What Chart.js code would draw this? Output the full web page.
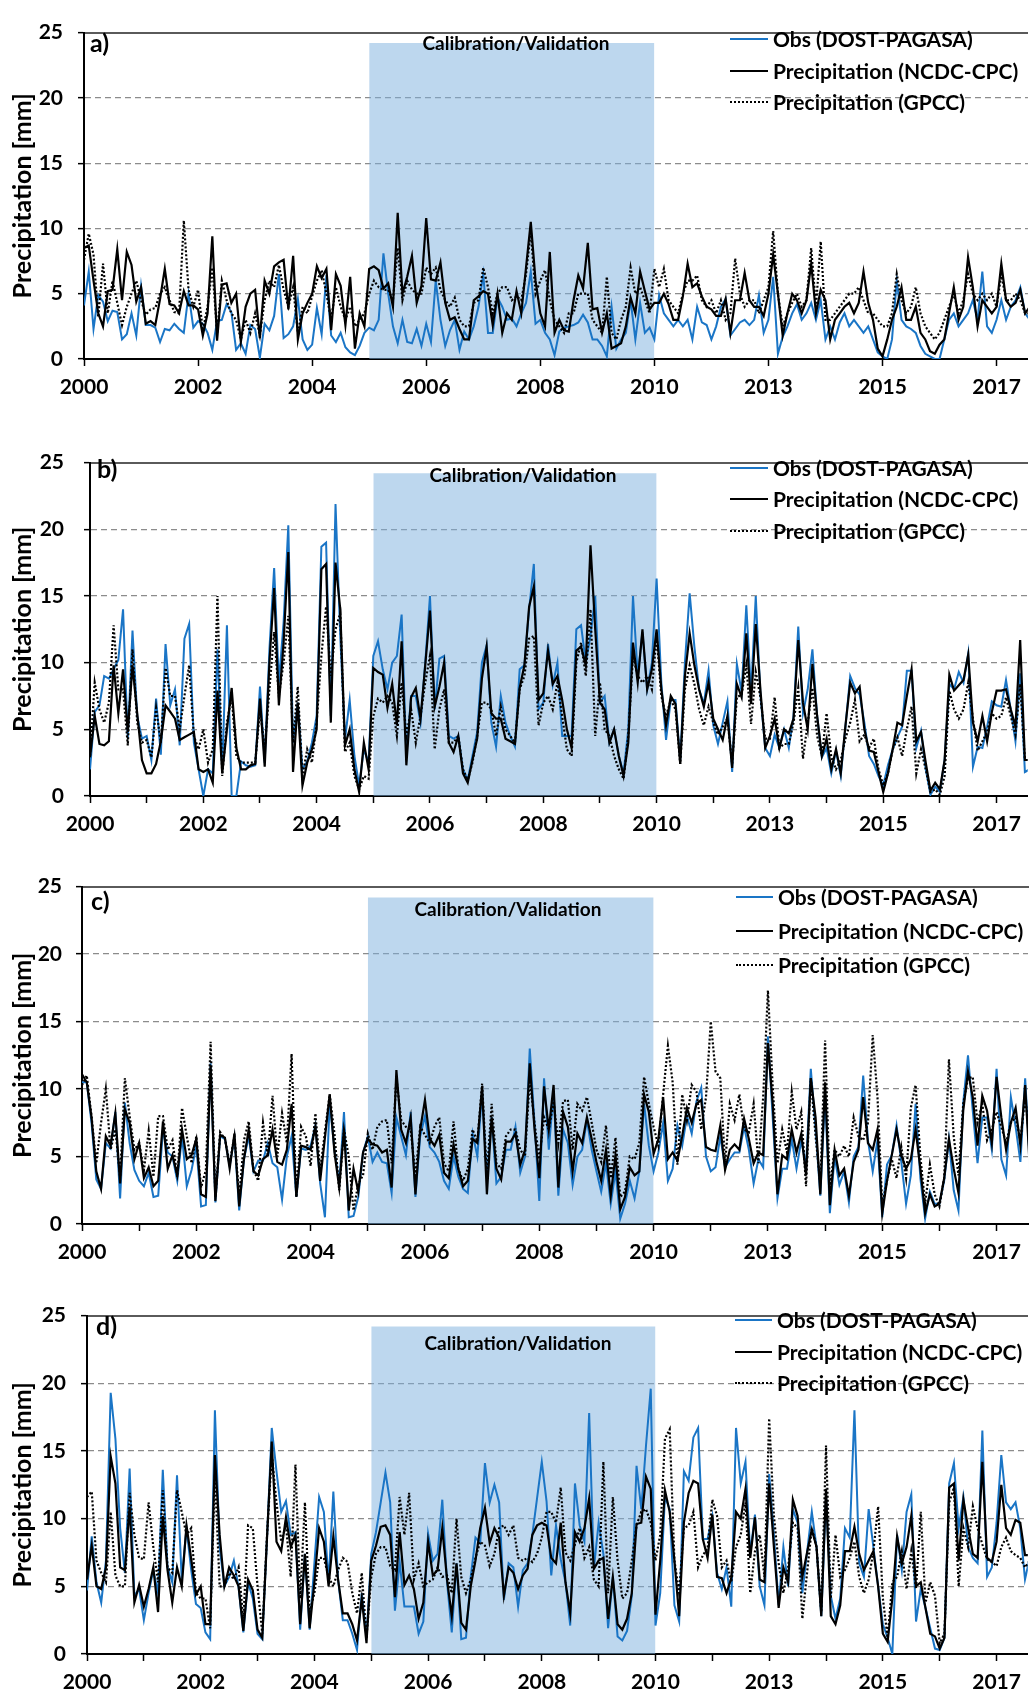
<!DOCTYPE html>
<html>
<head>
<meta charset="utf-8">
<script src="https://cdn.jsdelivr.net/npm/chart.js@4/dist/chart.umd.min.js"></script>
<style>
  html, body { margin:0; padding:0; background:#fff; }
  body { position:relative; width:1030px; height:1699px; overflow:hidden; font-family: Lato, "Open Sans", sans-serif; }
  .cv { position:absolute; left:0; }
  .txt { position:absolute; white-space:nowrap; font-weight:bold; color:#000; }
  .sample { position:absolute; height:0; }
</style>
</head>
<body>
<script>
// ---------- data (monthly, index 0 = Jan 2000) ----------
const xTickLabels = ['2000','2002','2004','2006','2008','2010','2013','2015','2017'];
const yTicks = [0, 5, 10, 15, 20, 25];
const seriesNames = ['Obs (DOST-PAGASA)', 'Precipitation (NCDC-CPC)', 'Precipitation (GPCC)'];
const panelLetters = ['a)', 'b)', 'c)', 'd)'];
const calLabel = 'Calibration/Validation';
const calStart = 60, calEnd = 120, calTop = 24.2;

const aObs = [
4.1,6.7,2.3,4.9,4.4,2.9,3.7,3.6,1.5,1.9, 3.5,1.8,5.6,2.6,2.6,2.4,1.3,2.3,2.2,2.7,
2.3,2.0,5.0,2.4,2.9,2.7,2.0,0.7,2.9,3.0, 4.2,3.6,0.7,1.2,0.4,2.6,2.3,0.1,2.7,2.2,
3.3,6.5,1.6,1.9,2.5,4.6,1.5,0.7,1.1,3.9, 1.9,6.4,1.8,1.3,2.0,0.9,0.5,0.3,1.0,2.0,
2.4,2.2,3.0,8.1,5.0,2.5,1.2,3.0,1.3,1.2, 2.3,1.0,2.7,1.3,6.0,3.0,1.0,2.2,3.0,0.7,
2.1,1.5,2.5,4.0,6.5,2.0,2.0,4.7,4.0,3.0, 3.1,2.5,3.5,4.3,6.7,2.7,3.0,2.0,1.5,0.3,
2.1,2.4,2.5,2.6,2.8,3.4,2.8,1.5,1.5,1.0, 0.2,4.0,0.8,1.5,2.0,4.5,1.5,4.3,2.0,2.4,
1.5,4.9,3.5,3.0,2.5,3.0,2.5,3.0,1.5,4.0, 2.8,2.6,1.5,2.5,4.0,4.6,1.8,2.3,2.8,3.0,
2.6,3.0,4.9,2.0,3.0,6.3,0.4,1.7,2.5,3.5, 4.2,3.0,3.5,4.3,3.0,4.5,1.5,2.5,1.5,2.8,
3.5,2.5,3.0,2.5,2.0,2.5,1.5,0.5,0.2,0.0, 1.5,6.0,3.0,2.5,2.3,2.0,1.0,0.4,0.2,0.0,
0.0,1.5,3.0,3.5,2.5,3.0,3.5,4.5,3.0,6.7, 2.5,2.0,3.0,4.5,3.0,4.0,4.5,5.5,3.5,3.0];
const aNcdc = [
8.5,8.7,6.0,3.5,2.5,5.2,5.3,8.4,4.5,8.2, 7.2,4.4,5.5,2.7,2.9,2.6,4.6,6.9,4.2,4.1,
3.5,5.2,4.1,4.1,3.8,1.8,3.5,9.4,1.4,5.7, 5.8,4.3,5.0,1.3,4.0,5.0,5.3,1.6,6.0,5.0,
7.1,7.4,7.6,3.8,7.9,1.5,3.5,4.3,5.0,7.1, 6.2,6.9,2.2,6.5,5.6,2.6,6.3,0.8,3.5,2.5,
6.9,7.1,6.8,5.4,5.8,4.0,11.2,5.0,6.3,7.9, 4.3,5.6,10.8,6.1,6.0,7.4,4.3,3.0,3.2,2.3,
1.5,1.5,4.5,4.8,5.2,5.0,2.6,5.0,2.0,3.5, 3.0,5.2,3.5,7.0,10.5,6.0,3.5,2.5,8.2,2.0,
3.0,2.2,2.1,4.5,6.4,5.4,8.9,3.8,3.9,2.0, 3.5,0.8,1.0,1.2,2.5,4.7,3.5,6.7,5.2,3.8,
4.3,4.3,5.0,4.2,3.0,3.0,4.8,7.3,5.5,5.8, 4.8,4.0,3.8,3.3,3.3,4.6,2.0,4.5,4.5,6.6,
4.5,4.0,4.0,3.3,5.0,8.0,5.0,1.8,3.5,5.0, 4.5,3.5,4.5,7.3,3.5,5.3,4.5,1.5,3.0,3.5,
4.0,4.3,3.5,4.3,6.7,4.3,3.0,0.8,0.2,1.5, 3.0,4.0,5.5,3.0,3.0,4.0,2.0,1.5,0.6,0.4,
1.1,1.5,3.5,5.5,3.0,4.0,7.8,5.5,2.5,4.5, 4.0,3.5,4.0,7.3,4.5,4.0,4.3,5.3,3.5,4.0];
const aGpcc = [
7.6,9.6,8.0,3.2,7.3,3.5,6.0,4.3,2.6,4.0, 5.0,6.0,4.5,3.4,3.8,3.9,5.0,5.5,4.5,3.6,
3.5,10.6,5.3,4.0,5.3,2.2,4.0,7.0,2.0,6.0, 4.5,3.5,3.0,1.5,3.0,2.0,3.5,1.8,4.5,6.0,
5.5,7.2,5.3,4.0,5.5,2.0,4.0,3.5,4.8,6.0, 6.8,5.0,3.0,5.5,4.0,3.0,4.0,2.5,3.0,3.5,
5.0,6.0,5.5,5.3,5.3,4.5,8.5,4.5,6.0,5.3, 5.0,5.0,7.0,6.5,7.0,5.3,4.5,4.0,4.7,3.0,
2.5,2.5,4.3,4.5,7.0,5.5,3.5,5.0,5.5,5.5, 4.5,4.8,4.5,6.5,9.8,5.0,6.0,6.8,4.5,3.0,
2.5,2.0,3.5,3.5,5.0,5.0,5.0,3.0,2.5,2.0, 6.3,2.0,1.5,3.0,4.0,7.0,5.0,5.5,4.5,3.5,
6.9,5.5,6.9,4.5,4.0,3.5,5.0,6.0,6.0,6.4, 4.5,4.0,4.5,3.5,4.5,3.0,3.5,7.7,5.0,4.0,
4.5,4.5,3.5,4.5,5.5,9.8,5.0,2.5,3.5,4.3, 5.0,4.0,4.5,8.5,4.0,9.0,3.0,3.0,3.5,4.0,
4.5,5.0,5.0,5.5,4.5,3.5,3.5,3.0,2.5,2.5, 3.5,6.5,4.5,3.5,4.0,5.5,3.5,2.5,2.0,1.5,
2.0,3.0,4.0,5.0,3.5,4.5,6.5,5.0,4.5,5.0, 4.5,5.0,4.0,6.5,4.5,4.5,5.0,4.5,3.5,3.5];

const bObs = [
2.0,6.3,6.8,9.0,8.8,9.5,10.2,14.0,4.3,12.4, 6.0,4.3,4.5,2.7,7.3,3.1,11.4,6.8,8.0,3.8,
11.8,12.9,4.0,2.0,0.0,2.0,1.7,11.0,2.0,12.8, 0.0,0.0,2.6,2.3,2.2,2.3,8.2,2.5,11.0,17.1,
8.5,13.0,20.3,4.0,7.0,2.0,2.6,4.0,6.0,18.7, 19.0,6.0,21.9,12.0,4.2,7.2,3.0,0.8,3.5,2.5,
10.5,11.6,9.5,8.0,10.0,10.5,13.6,3.0,7.5,7.5, 5.5,10.0,15.0,6.5,10.3,10.5,4.5,4.3,4.5,2.0,
1.2,3.0,4.8,10.0,11.3,5.5,3.7,7.5,5.5,4.5, 3.7,9.5,9.8,14.0,17.4,6.5,7.0,11.4,8.3,10.0,
4.5,4.5,4.5,12.5,12.8,10.0,12.0,15.0,7.0,7.5, 4.0,5.0,3.0,1.7,5.0,15.0,9.0,12.3,8.0,10.0,
16.3,8.5,4.2,7.2,7.2,2.7,10.0,15.2,11.2,8.0, 6.9,9.4,5.3,3.9,5.5,7.1,1.8,9.9,7.8,14.3,
7.7,15.0,7.5,3.6,3.0,4.6,3.6,5.0,3.6,6.0, 12.7,6.2,8.0,11.0,6.0,2.9,3.6,1.7,3.4,1.5,
5.2,9.0,8.1,7.6,5.5,3.0,2.4,1.5,0.8,2.3, 3.5,4.4,5.2,9.4,9.4,3.6,4.9,2.0,0.1,0.7,
0.3,2.7,8.4,8.0,9.3,8.5,10.7,2.2,3.7,3.6, 5.2,7.1,6.8,6.7,8.7,6.5,4.1,9.2,1.8,2.0];
const bNcdc = [
2.9,6.0,3.9,3.8,4.1,9.8,6.2,9.5,4.8,9.8, 6.2,2.7,1.7,1.7,2.4,4.1,6.8,6.3,5.8,4.2,
4.4,4.6,4.8,2.0,1.8,2.0,1.0,7.9,1.7,5.0, 8.1,3.6,2.0,2.0,2.3,2.4,7.3,2.2,10.0,15.6,
6.8,11.5,18.3,1.8,7.0,0.8,2.5,3.5,5.0,17.0, 17.4,5.5,17.5,14.0,3.8,5.0,2.0,0.3,4.0,2.0,
9.6,9.3,9.1,6.6,8.4,5.3,11.6,2.3,7.4,8.1, 5.8,9.8,13.9,6.7,8.2,10.0,4.0,3.3,4.5,1.7,
1.0,2.7,4.3,8.8,11.2,6.2,5.8,5.8,4.3,4.1, 3.9,8.1,9.8,14.2,15.7,7.2,7.7,10.9,8.4,9.0,
7.2,5.0,3.6,10.9,11.2,9.8,18.8,12.5,7.0,6.5, 4.0,5.0,3.0,1.5,4.0,11.5,8.5,12.5,8.0,9.5,
12.5,8.0,5.3,7.5,6.9,2.4,9.0,12.2,9.8,8.0, 6.7,8.5,5.8,5.0,4.2,6.0,2.1,8.4,7.4,12.2,
6.9,12.9,7.9,3.6,4.5,5.8,3.6,5.0,4.7,5.8, 11.7,7.0,5.0,9.9,6.0,3.0,4.3,2.0,3.5,1.7,
5.3,8.5,7.7,8.2,5.0,3.4,3.3,1.8,0.3,1.7, 3.5,5.5,5.3,7.5,9.5,4.1,4.8,2.5,0.4,1.0,
0.5,2.7,9.1,7.9,8.3,8.7,10.6,5.5,4.1,6.0, 4.1,6.3,7.9,7.9,8.0,6.5,5.2,11.7,2.7,2.7];
const bGpcc = [
3.0,8.5,6.5,5.5,7.0,12.8,8.0,8.0,3.8,11.0, 5.5,4.0,4.2,2.9,6.6,4.0,9.6,7.5,7.5,5.0,
7.5,9.8,4.5,3.5,5.0,2.5,3.5,15.0,1.5,5.5, 7.5,3.0,2.5,2.5,2.5,2.5,6.5,3.5,8.0,12.3,
7.5,10.0,13.5,4.0,8.2,1.5,3.5,2.5,5.5,10.5, 14.2,9.0,12.5,13.7,3.3,4.0,1.5,0.5,1.5,1.3,
6.0,7.3,7.0,7.5,7.0,4.5,8.5,4.5,6.5,4.0, 6.0,8.5,10.5,3.5,6.5,8.0,4.0,4.0,4.5,2.0,
1.2,2.5,4.5,7.0,7.0,6.5,4.5,6.7,5.0,4.5, 4.0,8.0,9.0,11.8,12.0,5.3,7.0,7.5,6.5,8.5,
6.0,3.5,3.0,10.0,11.5,9.0,14.0,4.5,8.5,5.0, 4.5,3.0,2.0,1.3,4.5,10.5,9.0,8.5,9.0,8.0,
12.0,7.5,6.0,7.2,6.5,2.4,8.0,9.8,8.4,6.5, 5.3,6.7,5.5,4.6,5.2,5.8,2.4,7.4,7.6,9.8,
5.4,9.3,7.4,4.3,4.3,7.4,3.6,3.9,3.9,5.5, 8.1,2.8,5.5,8.1,4.5,3.0,6.2,2.9,2.0,2.7,
4.3,5.5,7.2,4.1,4.6,3.6,4.3,2.0,0.8,1.7, 3.5,4.4,3.0,5.0,6.7,1.7,3.5,2.0,0.3,0.5,
0.1,1.5,7.9,6.5,5.8,6.5,8.5,5.8,3.4,4.1, 4.8,6.2,5.8,6.0,7.4,6.0,4.6,8.4,2.7,2.7];

const cObs = [
10.5,10.5,7.5,3.3,2.6,6.0,5.6,8.3,1.9,9.0, 6.0,4.0,3.2,2.8,3.8,2.0,2.1,7.0,5.3,5.0,
3.2,6.5,2.8,4.0,5.8,1.3,1.4,11.9,1.6,6.5, 6.3,4.3,6.4,1.0,4.8,6.5,3.9,4.7,4.7,6.0,
4.5,4.2,1.8,5.0,6.5,2.0,5.6,5.5,5.8,7.3, 3.0,0.5,9.0,5.5,3.0,8.3,0.5,0.6,2.0,5.3,
6.5,4.6,5.3,4.6,4.5,2.3,7.9,6.5,5.1,8.3, 2.0,6.5,8.0,5.7,5.3,4.6,3.2,2.6,5.0,3.5,
2.6,2.3,6.7,5.0,9.8,3.3,7.9,3.0,3.5,5.5, 5.5,7.2,3.8,5.0,13.0,7.5,1.7,10.8,5.5,9.8,
2.1,7.0,6.0,2.9,5.0,5.5,7.7,5.5,3.9,2.4, 4.5,1.5,3.9,0.4,1.5,3.2,1.9,3.9,8.9,5.8,
3.9,5.3,7.5,3.2,4.1,7.3,5.8,8.0,6.7,9.1, 10.1,5.0,3.9,4.2,6.5,4.2,4.8,5.3,5.3,7.2,
5.5,3.0,4.8,4.2,13.9,7.9,1.9,4.1,4.1,6.3, 4.1,6.2,4.3,11.5,7.0,2.1,9.6,0.8,5.0,2.9,
3.9,1.6,5.0,5.7,11.0,6.2,3.9,6.2,0.5,4.4, 5.1,7.3,4.6,1.5,3.6,8.9,3.4,0.4,2.4,1.5,
1.5,3.2,6.3,2.5,1.0,9.0,12.5,8.4,4.5,7.9, 7.9,5.5,11.5,4.8,3.6,9.4,7.2,4.6,10.8,4.5];
const cNcdc = [
11.1,10.5,7.9,3.9,2.6,6.5,5.8,8.2,3.0,8.5, 7.5,4.8,6.0,3.4,4.2,2.8,3.2,7.6,4.1,5.1,
3.6,7.0,4.8,5.1,6.3,2.2,2.0,11.7,1.7,6.6, 6.4,4.1,6.7,1.3,4.8,7.0,3.9,3.6,4.8,5.1,
7.0,4.6,4.4,5.5,8.9,2.0,5.8,5.7,5.5,7.2, 3.2,6.4,9.6,5.3,2.7,7.0,1.0,4.1,2.4,5.3,
6.3,5.9,5.8,5.3,5.5,2.7,11.4,7.0,6.0,7.9, 2.2,7.0,9.2,6.3,5.8,6.6,3.8,3.4,5.9,4.1,
2.8,3.2,6.3,6.0,10.2,2.2,7.9,4.1,3.3,6.1, 6.1,6.7,4.4,5.5,11.9,7.0,3.4,10.2,7.0,10.3,
2.7,8.3,7.2,3.9,6.7,6.0,7.9,6.3,4.6,3.2, 5.5,2.1,5.1,1.1,2.0,4.2,3.6,3.9,9.6,8.3,
5.2,6.3,9.4,4.8,5.3,4.7,6.5,8.6,7.5,8.9, 9.2,5.7,5.5,5.4,7.3,4.0,5.5,5.9,5.5,7.8,
6.3,4.5,5.3,5.1,13.4,8.9,2.2,5.1,4.8,7.0, 5.3,6.7,3.6,10.8,7.9,2.2,10.5,1.4,5.5,3.6,
4.1,2.1,4.6,5.5,9.4,6.0,5.5,7.0,0.8,3.2, 5.1,7.0,5.1,4.1,4.8,7.0,4.1,0.8,2.2,1.3,
1.5,3.4,6.3,4.1,2.3,8.4,11.3,9.4,5.8,9.5, 8.4,6.0,10.9,7.9,5.5,7.5,8.6,5.8,10.3,4.0];
const cGpcc = [
10.3,11.0,8.0,4.5,7.5,10.0,5.5,7.0,3.5,10.8, 8.0,5.5,6.0,4.0,6.9,3.5,8.0,8.0,5.5,6.2,
3.5,8.6,6.5,4.5,6.5,2.7,4.0,13.5,2.0,6.8, 6.3,4.5,6.5,2.0,6.2,7.6,4.0,3.2,7.5,5.0,
9.5,5.0,8.2,6.0,12.6,2.0,7.2,6.5,4.3,8.2, 4.0,6.8,9.6,6.7,2.5,7.0,5.0,1.0,3.0,3.6,
6.7,5.5,7.2,7.6,7.7,4.5,10.8,7.7,7.2,7.0, 3.6,7.2,6.6,6.0,7.2,7.9,4.5,3.9,7.6,4.1,
3.2,4.1,7.0,6.1,10.4,3.6,8.9,4.5,4.1,6.5, 7.0,7.0,5.5,5.0,10.8,7.5,4.8,7.9,7.0,9.1,
6.0,9.1,9.2,5.5,8.9,8.4,9.4,7.5,5.5,4.6, 7.3,3.4,6.4,2.0,2.4,5.0,4.8,6.0,10.9,8.9,
7.2,5.8,9.6,13.2,10.5,4.4,9.6,7.7,10.3,9.8, 7.0,9.4,15.0,11.3,10.8,4.4,8.9,7.7,9.6,7.0,
6.8,8.9,4.5,9.4,17.3,10.2,4.5,7.0,5.3,9.8, 7.0,8.3,2.8,10.8,6.5,3.0,13.6,2.7,5.5,5.0,
5.8,5.0,7.9,6.5,6.2,7.5,14.0,9.4,1.4,3.2, 4.8,3.4,5.7,3.4,8.6,10.3,5.0,1.5,4.4,2.2,
1.3,3.4,12.2,6.5,3.6,8.9,10.8,10.9,7.5,8.9, 6.2,7.0,8.3,7.2,6.0,7.5,7.9,6.2,9.4,6.0];

const dObs = [
4.7,8.7,5.3,3.8,6.9,19.3,15.9,9.3,6.0,13.7, 4.3,4.8,2.5,4.5,6.2,4.5,13.6,6.4,5.3,13.2,
5.5,9.3,6.2,3.7,3.4,1.6,1.1,18.0,7.9,5.0, 5.7,6.9,4.9,1.6,5.3,4.1,1.5,1.1,8.6,16.7,
13.5,10.5,11.3,8.8,9.0,1.8,7.4,1.8,6.7,11.6, 10.5,5.3,12.0,5.5,2.5,2.5,1.5,0.3,4.5,1.2,
7.4,9.0,11.2,13.4,11.2,3.2,6.8,3.5,3.5,3.5, 1.5,2.4,8.9,6.9,7.4,11.4,5.3,1.6,6.7,1.1,
1.2,5.7,8.6,8.2,14.1,11.2,12.5,11.2,4.0,6.7, 6.4,3.5,6.2,6.7,8.8,11.5,14.2,11.3,5.8,9.5,
7.0,5.3,2.1,12.6,9.5,8.3,17.8,6.3,9.7,7.4, 1.9,5.7,1.3,1.0,1.7,4.3,13.9,10.7,15.4,19.6,
2.1,4.5,11.6,10.7,3.6,2.4,13.5,12.8,16.0,16.7, 8.5,8.5,10.2,6.0,4.8,6.4,3.5,16.7,12.6,14.2,
7.4,10.3,5.0,3.6,13.3,8.8,3.6,7.9,5.0,10.7, 9.7,4.5,7.5,10.5,7.9,2.8,11.6,4.3,2.6,4.1,
9.3,8.6,18.0,6.7,5.7,10.7,7.9,5.0,2.2,1.2, 0.0,8.8,6.2,10.5,11.8,2.4,4.8,3.4,1.9,0.4,
0.3,1.2,12.6,14.1,9.3,11.6,7.9,7.1,6.7,16.5, 5.7,6.4,9.7,14.7,11.2,10.7,11.2,9.3,5.5,7.1];
const dNcdc = [
5.5,8.0,5.0,4.8,6.4,14.6,12.6,6.4,6.2,10.9, 3.8,5.1,3.5,4.8,6.4,3.1,10.2,6.2,3.8,6.4,
5.0,9.5,7.0,4.4,5.0,2.2,2.2,14.7,8.8,5.0, 6.4,5.8,5.0,1.7,5.5,4.7,1.8,1.2,8.6,15.7,
8.3,7.6,10.1,7.9,8.8,2.2,7.4,1.9,5.3,9.3, 8.3,5.0,8.7,5.5,3.0,3.0,2.2,1.0,4.1,0.8,
6.9,8.0,9.4,9.5,8.8,4.2,9.0,5.1,5.8,4.8, 2.6,3.8,8.3,5.8,6.2,9.3,5.5,2.8,6.7,2.3,
1.8,5.0,6.9,9.3,10.8,8.2,9.3,8.6,4.3,6.4, 6.0,4.8,5.8,6.3,8.8,9.5,9.7,9.5,7.1,6.7,
9.7,5.3,3.0,9.0,8.3,9.3,11.5,6.3,6.9,7.1, 2.6,5.7,2.2,1.8,2.6,4.5,9.6,9.7,13.1,12.2,
2.9,6.9,12.1,10.5,6.9,2.8,9.7,11.9,12.8,12.6, 8.5,7.1,10.3,5.7,5.6,4.5,5.6,10.5,10.0,12.2,
7.1,10.1,5.5,5.3,12.6,7.9,3.4,6.4,5.3,11.4, 10.2,5.7,7.5,9.2,7.9,2.8,12.2,2.8,2.2,3.6,
7.6,7.6,9.4,7.4,6.2,6.9,7.6,5.0,1.5,0.9, 4.1,8.7,6.7,7.9,10.2,5.0,5.3,3.4,1.5,1.3,
0.4,1.2,12.3,12.6,6.9,11.4,9.3,7.4,7.1,14.2, 7.1,6.8,8.3,12.5,9.3,8.8,9.9,9.7,7.3,7.3];
const dGpcc = [
11.6,12.0,6.9,6.0,5.3,10.5,5.8,5.0,5.0,11.9, 8.8,7.1,7.0,11.2,7.9,5.3,12.1,6.4,6.0,12.1,
10.5,8.8,9.3,4.5,4.1,4.1,1.9,13.3,5.0,5.0, 6.0,5.5,6.4,2.6,9.5,9.3,5.0,1.5,8.8,14.7,
11.2,8.3,9.5,5.7,14.0,4.1,11.2,3.1,4.5,7.1, 7.1,5.7,5.0,6.2,7.1,6.8,4.5,3.0,6.0,1.2,
5.7,7.4,7.9,7.9,6.5,6.2,11.6,8.8,11.9,5.5, 6.7,5.0,5.3,5.5,6.4,5.7,5.8,4.5,10.0,5.7,
4.5,5.5,7.1,8.3,8.0,6.5,7.4,9.3,9.5,8.8, 9.5,7.1,6.9,7.1,6.8,7.4,8.6,10.5,10.5,9.7,
12.3,7.5,6.9,8.1,9.3,7.1,7.9,5.5,5.0,14.2, 4.5,11.6,6.9,4.1,4.5,6.9,9.5,10.5,10.7,9.7,
6.9,8.8,15.9,16.6,6.9,4.5,9.3,9.5,10.5,6.4, 7.3,7.8,11.4,10.2,6.4,6.9,5.3,7.9,8.8,11.2,
4.5,7.6,8.8,5.7,17.4,10.2,6.7,4.5,6.4,9.7, 9.3,2.6,6.0,9.3,7.9,3.1,15.4,4.1,8.8,5.7,
6.2,7.1,8.3,5.7,4.5,5.5,7.6,10.9,4.1,1.2, 5.3,5.7,7.6,4.8,7.6,4.8,10.5,3.8,5.3,4.3,
0.8,1.5,11.2,12.3,5.0,9.3,7.9,10.9,9.3,8.1, 7.0,6.8,6.5,7.9,8.6,7.6,7.3,7.1,6.4,6.9];

// ---------- layout / style ----------
const FONT = 'Lato, "Open Sans", sans-serif';
const BLUE = '#1a75c6';
const SHADE = 'rgba(123,175,221,0.5)';
const PAD_TOP = 14, XAX_H = 46, W = 1030, X_MAX = 198.6;

const panels = [
  {top:19,   bottom:359,  left:84, minor:false, yPad:15, obs:aObs, ncdc:aNcdc, gpcc:aGpcc,
   leg:{x:730, tx:773, rows:[39,71,102]},     lab:{x:90, y:42},   cal:{x:516, y:43}},
  {top:444,  bottom:796,  left:90, minor:true,  yPad:20, obs:bObs, ncdc:bNcdc, gpcc:bGpcc,
   leg:{x:730, tx:773, rows:[468,499,531]},   lab:{x:97, y:468},  cal:{x:523, y:475}},
  {top:874,  bottom:1224, left:82, minor:true,  yPad:14, obs:cObs, ncdc:cNcdc, gpcc:cGpcc,
   leg:{x:736, tx:778, rows:[897,931,965]},   lab:{x:91, y:900},  cal:{x:508, y:909}},
  {top:1302, bottom:1654, left:87, minor:true,  yPad:15, obs:dObs, ncdc:dNcdc, gpcc:dGpcc,
   leg:{x:735, tx:777, rows:[1320,1352,1383]}, lab:{x:96, y:1325}, cal:{x:518, y:1343}}
];

const toXY = arr => arr.map((v, i) => ({x: i, y: v}));
const tickFont = {family: FONT, size: 21, weight: 'bold'};

function addText(text, left, top, size, lh, center) {
  const d = document.createElement('div');
  d.className = 'txt';
  d.textContent = text;
  d.style.fontSize = size + 'px';
  d.style.lineHeight = lh + 'px';
  d.style.top = (top - lh / 2) + 'px';
  if (center) { d.style.left = (left - 300) + 'px'; d.style.width = '600px'; d.style.textAlign = 'center'; }
  else d.style.left = left + 'px';
  document.body.appendChild(d);
}

panels.forEach((p, pi) => {
  const h = (p.bottom - p.top) + PAD_TOP + XAX_H;
  const cv = document.createElement('canvas');
  cv.className = 'cv';
  cv.width = W; cv.height = h;
  cv.style.width = W + 'px'; cv.style.height = h + 'px';
  cv.style.top = (p.top - PAD_TOP) + 'px';
  document.body.appendChild(cv);

  const step = p.minor ? 12 : 24;
  const xTickVals = [];
  for (let v = 0; v <= 192; v += step) xTickVals.push(v);

  new Chart(cv, {
    type: 'line',
    data: {
      datasets: [
        {label: seriesNames[0], data: toXY(p.obs), borderColor: BLUE, borderWidth: 2,
         pointRadius: 0, tension: 0, fill: false, order: 3},
        {label: seriesNames[1], data: toXY(p.ncdc), borderColor: '#000', borderWidth: 2.2,
         pointRadius: 0, tension: 0, fill: false, order: 2},
        {label: seriesNames[2], data: toXY(p.gpcc), borderColor: '#000', borderWidth: 2.2,
         borderDash: [2, 2], pointRadius: 0, tension: 0, fill: false, order: 1},
        {label: calLabel, data: [{x: calStart, y: calTop}, {x: calEnd, y: calTop}],
         borderWidth: 0, borderColor: 'rgba(0,0,0,0)', backgroundColor: SHADE,
         fill: 'origin', pointRadius: 0, order: 10}
      ]
    },
    options: {
      responsive: false, animation: false, events: [],
      layout: {padding: {top: PAD_TOP, right: 0, bottom: 0, left: 0}},
      plugins: {legend: {display: false}, tooltip: {enabled: false}},
      scales: {
        x: {
          type: 'linear', position: 'bottom', min: 0, max: X_MAX,
          afterBuildTicks: s => { s.ticks = xTickVals.map(v => ({value: v})); },
          afterFit: s => { s.height = XAX_H; },
          ticks: {autoSkip: false, maxRotation: 0, minRotation: 0, padding: 9, color: '#000', font: tickFont,
                  callback: v => (v % 24 === 0 ? xTickLabels[v / 24] : '')},
          grid: {drawOnChartArea: false, drawTicks: true, tickLength: 7, tickColor: '#000', tickWidth: 1.5, color: '#000'},
          border: {display: true, color: '#000', width: 2}
        },
        xTop: {
          type: 'linear', position: 'top', min: 0, max: X_MAX,
          ticks: {display: false}, grid: {display: false, drawTicks: false},
          afterFit: s => { s.height = 0; },
          border: {display: true, color: '#5a5a5a', width: 2}
        },
        y: {
          type: 'linear', min: 0, max: 25,
          afterBuildTicks: s => { s.ticks = yTicks.map(v => ({value: v})); },
          afterFit: s => { s.width = p.left; },
          ticks: {padding: p.yPad, color: '#000', font: tickFont},
          title: {display: true, text: 'Precipitation [mm]', color: '#000',
                  font: {family: FONT, size: 25, weight: 'bold'}, padding: {top: 8, bottom: 0}},
          grid: {color: c => (c.tick && (c.tick.value === 0 || c.tick.value === 25)) ? 'rgba(0,0,0,0)' : '#8c8c8c',
                 lineWidth: 1.3, drawTicks: true, tickLength: 6, tickColor: '#000', tickWidth: 1.5},
          border: {display: true, color: '#000', width: 2, dash: [6, 4]}
        }
      }
    }
  });

  // panel letter, calibration label, legend
  addText(panelLetters[pi], p.lab.x, p.lab.y, 25, 30, false);
  addText(calLabel, p.cal.x, p.cal.y, 19, 24, true);
  const styles = [
    'border-top:2.5px solid ' + BLUE,
    'border-top:2.5px solid #000',
    'border-top:2.5px dotted #000'
  ];
  p.leg.rows.forEach((ry, k) => {
    const s = document.createElement('div');
    s.className = 'sample';
    s.style.cssText += ';left:' + p.leg.x + 'px;top:' + (ry - 1) + 'px;width:' + (p.leg.tx - p.leg.x - 5) + 'px;' + styles[k];
    document.body.appendChild(s);
    addText(seriesNames[k], p.leg.tx, ry, 21, 26, false);
  });
});
</script>
</body>
</html>
